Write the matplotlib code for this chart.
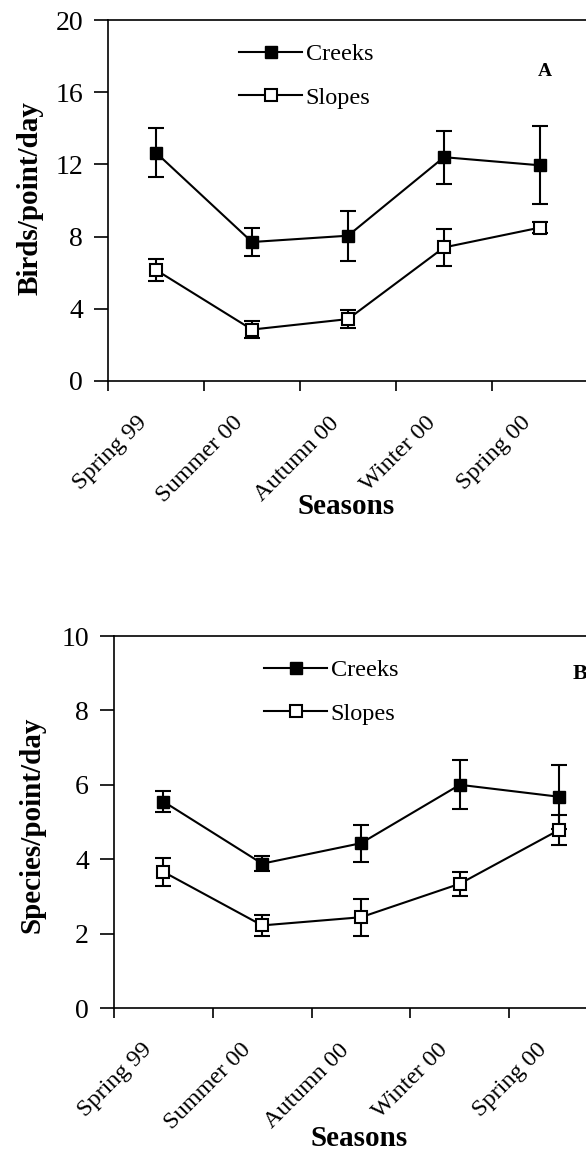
import matplotlib
matplotlib.use('Agg')
import matplotlib.pyplot as plt
import matplotlib.transforms as mtransforms
import numpy as np

plt.rcParams['font.family'] = ['Liberation Serif', 'DejaVu Serif']

seasons = ['Spring 99', 'Summer 00', 'Autumn 00', 'Winter 00', 'Spring 00']

# panel A: birds/point/day
birds_creeks = [12.65, 7.7, 8.05, 12.4, 11.95]
birds_creeks_err = [1.35, 0.75, 1.38, 1.47, 2.15]
birds_slopes = [6.15, 2.85, 3.43, 7.4, 8.5]
birds_slopes_err = [0.62, 0.49, 0.48, 1.03, 0.32]

# panel B: species/point/day
species_creeks = [5.55, 3.88, 4.43, 6.0, 5.68]
species_creeks_err = [0.27, 0.2, 0.5, 0.66, 0.86]
species_slopes = [3.66, 2.22, 2.44, 3.34, 4.78]
species_slopes_err = [0.38, 0.28, 0.5, 0.32, 0.4]

W, H = 586, 1153


def px_axes(fig, left, top, right, bottom):
    return fig.add_axes([left / W, 1 - bottom / H, (right - left) / W, (bottom - top) / H])


def draw_panel(ax, creeks, creeks_err, slopes, slopes_err, ymax, ystep, leg_xy, letter, letter_xy,
               letter_size, label_shift):
    x = np.arange(len(seasons)) + 0.5
    e1 = ax.errorbar(x, creeks, yerr=creeks_err, fmt='-s', color='black', mfc='black', mec='black',
                     ms=8.5, lw=1.5, elinewidth=1.5, capsize=6, capthick=1.5, zorder=3)
    e2 = ax.errorbar(x, slopes, yerr=slopes_err, fmt='-s', color='black', mfc='white', mec='black',
                     mew=1.5, ms=8.5, lw=1.5, elinewidth=1.5, capsize=6, capthick=1.5, zorder=3)
    ax.set_xlim(0, len(seasons))
    ax.set_ylim(0, ymax)
    ax.set_yticks(np.arange(0, ymax + 0.1, ystep))
    ax.set_xticks(x)
    ax.set_xticklabels(seasons, rotation=45, ha='right', va='center', rotation_mode='anchor', fontsize=17.5)
    ax.set_xticks(np.arange(len(seasons) + 1), minor=True)
    ax.tick_params(axis='x', which='major', length=0, pad=28)
    ax.tick_params(axis='x', which='minor', length=7, width=1.2, direction='out')
    ax.tick_params(axis='y', length=10, width=1.2, direction='out', labelsize=20, pad=8)
    # shift the rotated labels a little to the left, like the original
    shift = mtransforms.ScaledTranslation(-label_shift / 100, 0, ax.figure.dpi_scale_trans)
    for lbl in ax.get_xticklabels():
        lbl.set_transform(lbl.get_transform() + shift)
    for s in ['left', 'bottom', 'top']:
        ax.spines[s].set_linewidth(1.2)
    ax.spines['right'].set_visible(False)
    ax.legend([e1.lines[0], e2.lines[0]], ['Creeks', 'Slopes'], loc='upper left',
              bbox_to_anchor=(leg_xy[0] / W, 1 - leg_xy[1] / H), bbox_transform=ax.figure.transFigure,
              frameon=False, borderpad=0, borderaxespad=0, handlelength=2.6, handletextpad=0.15,
              labelspacing=0.9, fontsize=17.5)
    ax.figure.text(letter_xy[0] / W, 1 - letter_xy[1] / H, letter, fontsize=letter_size,
                   fontweight='bold', ha='center', va='center')


fig = plt.figure(figsize=(W / 100, H / 100), dpi=100)

ax1 = px_axes(fig, 108, 20, 588, 381)
draw_panel(ax1, birds_creeks, birds_creeks_err, birds_slopes, birds_slopes_err,
           20, 4, (239, 43), 'A', (545, 71), 14, 12)
fig.text(30 / W, 1 - 198 / H, 'Birds/point/day', rotation=90, fontsize=21, fontweight='bold',
         ha='center', va='center')
fig.text(346 / W, 1 - 506 / H, 'Seasons', fontsize=21, fontweight='bold', ha='center', va='center')

ax2 = px_axes(fig, 114, 636, 608, 1008)
draw_panel(ax2, species_creeks, species_creeks_err, species_slopes, species_slopes_err,
           10, 2, (264, 659), 'B', (580, 674), 16, 15)
fig.text(32 / W, 1 - 825 / H, 'Species/point/day', rotation=90, fontsize=21, fontweight='bold',
         ha='center', va='center')
fig.text(359 / W, 1 - 1138 / H, 'Seasons', fontsize=21, fontweight='bold', ha='center', va='center')

fig.savefig('out.png', dpi=100)
